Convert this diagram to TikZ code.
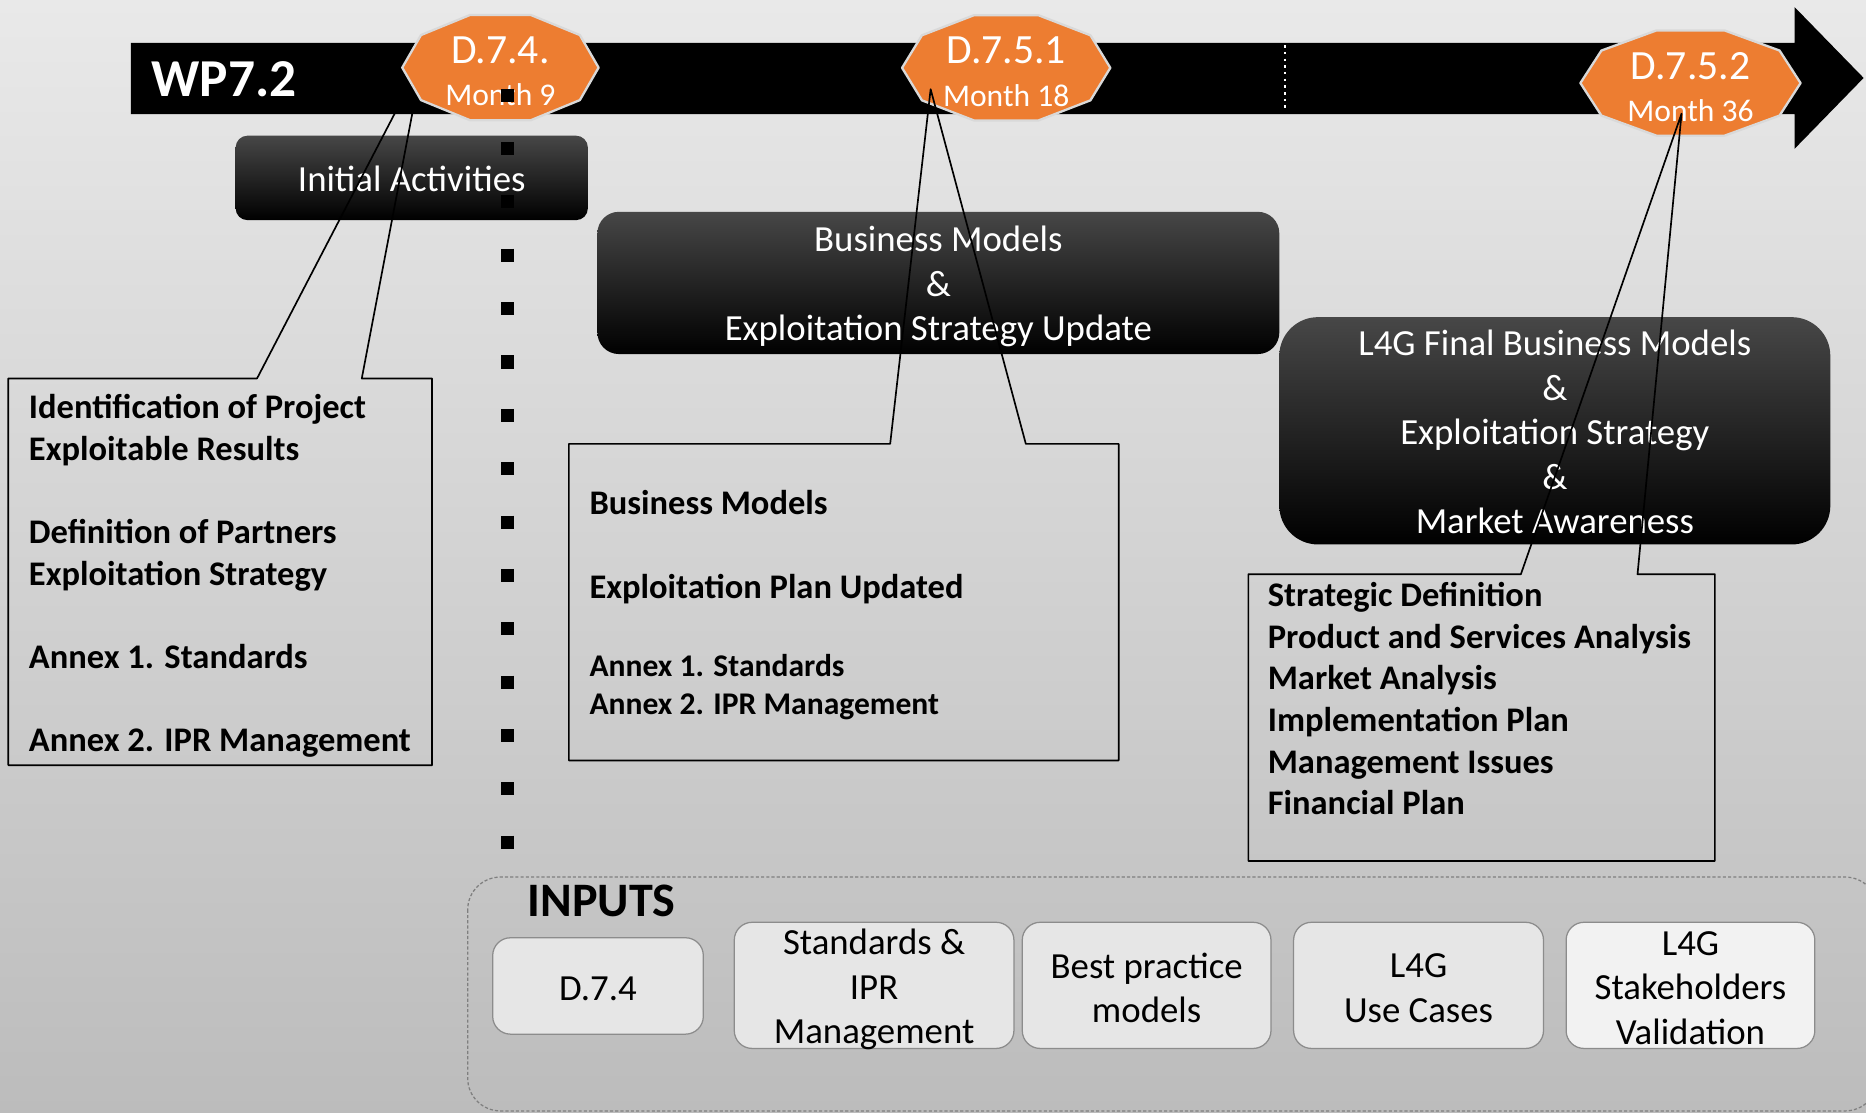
\documentclass[tikz,border=0pt]{standalone}
\usepackage{fontspec}
\setmainfont{Carlito}
\usepackage{tikz}

\newcommand{\wpfont}{\bfseries\fontsize{25.5}{30}\selectfont}
\newcommand{\msfont}{\fontsize{19.9}{24}\selectfont}
\newcommand{\monthfont}{\fontsize{15.1}{18}\selectfont}
\newcommand{\boxfont}{\fontsize{17.6}{21.3}\selectfont}
\newcommand{\callfont}{\bfseries\fontsize{16.5}{19.9}\selectfont}
\newcommand{\annexfont}{\bfseries\fontsize{15.1}{18.2}\selectfont}
\newcommand{\inputsfont}{\bfseries\fontsize{23}{27}\selectfont}
% decagon milestone: name, centre x, centre y, half width, title, month
\newcommand{\milestone}[6]{%
\filldraw[milestone] plot[samples at={0,36,...,324},variable=\t] ({#2+#4*cos(\t)},{#3+46.5*sin(\t)}) -- cycle;
\node[mstext,font=\msfont] (#1) at (#2,#3-14.5) {#5};
\node[mstext,font=\monthfont] (#1m) at (#2,#3+23) {#6};
}

\begin{document}
\begin{tikzpicture}[line cap=round,line join=round,x=0.02cm,y=-0.02cm,
milestone/.style={draw=dzdzdz,fill=edxdtr,line width=1.1pt},
mstext/.style={text=white,inner sep=0pt},
darkbox/.style={rounded corners=#1,top color=uxuxux,middle color=black,bottom color=black},
boxtext/.style={text=white,align=center,font=\boxfont,inner sep=0pt},
callout/.style={draw=black,line width=0.8pt},
calltext/.style={anchor=north west,align=left,inner sep=0pt,font=\callfont},
inbox/.style={draw=ycycyc,fill=ewewew,line width=0.6pt,rounded corners=0.3cm},
intext/.style={align=center,font=\boxfont,inner sep=0pt}]
\definecolor{edxdtr}{rgb}{0.9294,0.4902,0.1922}
\definecolor{dzdzdz}{rgb}{0.851,0.851,0.851}
\definecolor{ezezez}{rgb}{0.9137,0.9137,0.9137}
\definecolor{bcbcbc}{rgb}{0.7373,0.7373,0.7373}
\definecolor{uxuxux}{rgb}{0.2784,0.2784,0.2784}
\definecolor{ewewew}{rgb}{0.902,0.902,0.902}
\definecolor{fsfsfs}{rgb}{0.949,0.949,0.949}
\definecolor{ycycyc}{rgb}{0.549,0.549,0.549}
\definecolor{xfxfxf}{rgb}{0.498,0.498,0.498}
\useasboundingbox (0,0) rectangle (1568,935);
\shade[top color=ezezez,bottom color=bcbcbc] (0,0) rectangle (1568,935);
\clip (0,0) rectangle (1568,935);
% first phase
\shade[darkbox=0.2cm] (198,114) rectangle (494,185);
\node[boxtext] (ia) at (346,150.5) {Initial Activities};
\coordinate (tip74) at (355,50.5);
\draw[callout] (7,318)--(216,318)--(tip74)--(304,318)--(363,318)--(363,643)--(7,643)--cycle;
\node[calltext] (res74) at (24,331) {Identification of Project\\Exploitable Results\\[19.9pt]Definition of Partners\\Exploitation Strategy\\[19.9pt]Annex 1. Standards\\[19.9pt]Annex 2. IPR Management};
% time line
\fill (110,36)--(1508,36)--(1508,6)--(1566,65.5)--(1508,125)--(1508,96)--(110,96)--cycle;
\draw[white,line width=0.8pt,line cap=butt,dash pattern=on 1.2pt off 2pt] (1080,38)--(1080,94);
\node[font=\wpfont,text=white,anchor=west,inner sep=0pt] (wp) at (127,66.5) {WP7.2};
\milestone{d74}{420.5}{56.8}{82.5}{D.7.4.}{Month 9}
\milestone{d751}{845.5}{57}{87.5}{D.7.5.1}{Month 18}
\milestone{d752}{1420.5}{69.8}{92.5}{D.7.5.2}{Month 36}
\draw[line width=0.22cm,line cap=butt,dash pattern=on 0.22cm off 0.677cm] (426.5,74.5)--(426.5,713.5);
% month 18
\shade[darkbox=0.36cm] (502,178) rectangle (1075,297.5);
\node[boxtext] (bm) at (788.5,241) {Business Models\\\&\\Exploitation Strategy Update};
\coordinate (tip751) at (782,75);
\draw[callout] (478,373)--(748,373)--(tip751)--(862,373)--(940,373)--(940,639)--(478,639)--cycle;
\node[calltext] (res751) at (495,412) {Business Models\\[19.9pt]Exploitation Plan Updated};
\node[calltext,font=\annexfont] (res751b) at (495,549.5) {Annex 1. Standards\\Annex 2. IPR Management};
% month 36
\shade[darkbox=0.65cm] (1075,266.5) rectangle (1538,457.5);
\node[boxtext] (fbm) at (1306.5,363) {L4G Final Business Models\\\&\\Exploitation Strategy\\\&\\Market Awareness};
\coordinate (tip752) at (1413,95.5);
\draw[callout] (1049,482.5)--(1278,482.5)--(tip752)--(1376,482.5)--(1441,482.5)--(1441,723.5)--(1049,723.5)--cycle;
\node[calltext] (res752) at (1065,489) {Strategic Definition\\Product and Services Analysis\\Market Analysis\\Implementation Plan\\Management Issues\\Financial Plan};
% inputs
\draw[xfxfxf,line width=0.6pt,line cap=butt,dash pattern=on 1.5pt off 1pt,rounded corners=0.55cm] (393,737) rectangle (1578,933.5);
\node[font=\inputsfont,anchor=west,inner sep=0pt] (inputs) at (443,757) {INPUTS};
\draw[inbox] (414,788) rectangle (591,869);
\node[intext] (in1) at (502.5,830.5) {D.7.4};
\draw[inbox] (617,775) rectangle (852,881);
\node[intext] (in2) at (734.5,831.5) {Standards \&\\IPR\\Management};
\draw[inbox] (859,775) rectangle (1068,881);
\node[intext] (in3) at (963.5,830) {Best practice\\models};
\draw[inbox] (1087,775) rectangle (1297,881);
\node[intext] (in4) at (1192,830.5) {L4G\\Use Cases};
\draw[inbox,fill=fsfsfs] (1316,775) rectangle (1525,881);
\node[intext] (in5) at (1420.5,830) {L4G\\Stakeholders\\Validation};
\end{tikzpicture}
\end{document}
